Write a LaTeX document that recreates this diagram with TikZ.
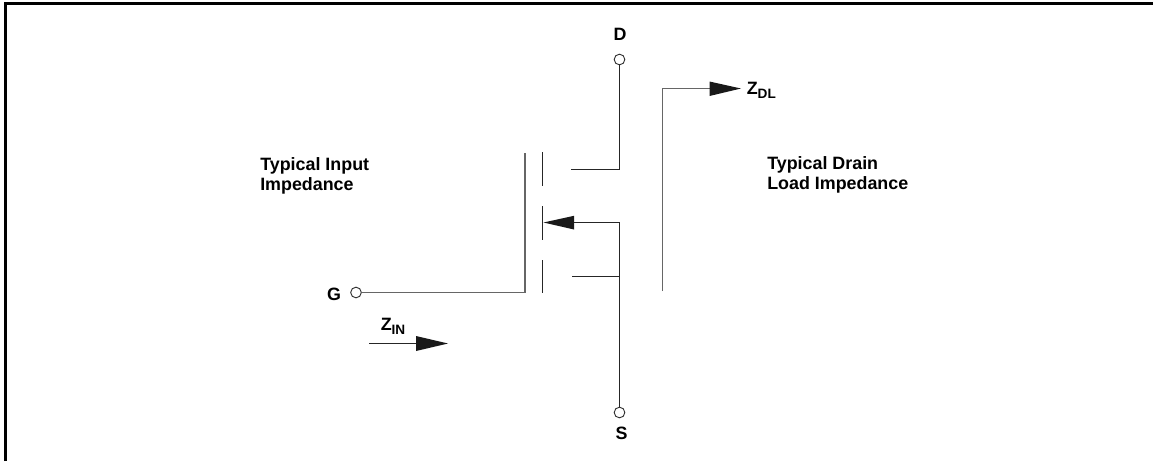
\documentclass[tikz,border=0pt]{standalone}
\usepackage{fontspec}
\setmainfont{Liberation Sans}
\tikzset{
  px/.style={x=0.75pt,y=-0.75pt},
  wire/.style={line width=0.75pt,draw=black!85},
  grayw/.style={line width=1pt,draw=black!60},
  term/.style={circle,draw=black!80,fill=white,line width=0.7pt,minimum size=8pt,inner sep=0pt},
  lab/.style={font=\bfseries\fontsize{13.4pt}{15pt}\selectfont,inner sep=0pt,align=left},
  head/.style={fill=black!90,draw=none},
  frameline/.style={line width=2.4pt,draw=black,line cap=butt},
}
\newcommand{\subtxt}[1]{\raisebox{-3.5pt}{\fontsize{10.2pt}{10pt}\selectfont #1}}
\begin{document}
\begin{tikzpicture}[px]
\useasboundingbox (0,0) rectangle (1153,461);
\fill[white] (0,0) rectangle (1153,461);
\coordinate (fa) at (5.5,461);
\coordinate (fb) at (5.5,3.5);
\coordinate (fc) at (1153,3.5);
\draw[frameline] (fa) -- (fb) -- (fc);
\node[term] (D) at (619.5,59.5) {};
\node[term] (S) at (619.5,412.5) {};
\node[term] (G) at (356,292.5) {};
\node[lab,anchor=center] (Dl) at (620,34) {D};
\node[lab,anchor=center] (Sl) at (621.5,433) {S};
\node[lab,anchor=center] (Gl) at (334,294) {G};
\coordinate (gt) at (525,152.5);
\coordinate (gb) at (525,292.5);
\draw[grayw] (G) -- (gb) -- (gt);
\coordinate (c1a) at (542.5,152);
\coordinate (c1b) at (542.5,186);
\coordinate (c2a) at (542.5,206);
\coordinate (c2b) at (542.5,240);
\coordinate (c3a) at (542.5,260);
\coordinate (c3b) at (542.5,293);
\draw[wire] (c1a) -- (c1b);
\draw[wire] (c2a) -- (c2b);
\draw[wire] (c3a) -- (c3b);
\coordinate (dj) at (619.5,169.5);
\coordinate (ds) at (571,169.5);
\draw[wire] (D) -- (dj) -- (ds);
\coordinate (sm) at (619.5,222.5);
\coordinate (ss) at (572,276.5);
\coordinate (sj) at (619.5,276.5);
\coordinate (at) at (543.5,222.5);
\coordinate (ab) at (574,222.5);
\draw[wire] (S) -- (sm) -- (ab);
\draw[wire] (ss) -- (sj);
\fill[head] (at) -- (574,215.8) -- (574,229.5) -- cycle;
\coordinate (zs) at (662.5,291);
\coordinate (zc) at (662.5,88.5);
\coordinate (zh) at (710,88.5);
\draw[grayw] (zs) -- (zc) -- (zh);
\fill[head] (741,88.5) -- (709.5,81.5) -- (709.5,96) -- cycle;
\coordinate (ia) at (369,343.5);
\coordinate (ib) at (417,343.5);
\draw[wire] (ia) -- (ib);
\fill[head] (448,343.5) -- (416,336) -- (416,351) -- cycle;
\node[lab,anchor=base west] (zdl) at (746.5,94) {Z\subtxt{DL}};
\node[lab,anchor=base west] (zin) at (380.5,330) {Z\subtxt{IN}};
\node[lab,anchor=north west] (til) at (260,157.5) {Typical Input\\Impedance};
\node[lab,anchor=north west] (tdl) at (767,156) {Typical Drain\\Load Impedance};
\end{tikzpicture}
\end{document}
